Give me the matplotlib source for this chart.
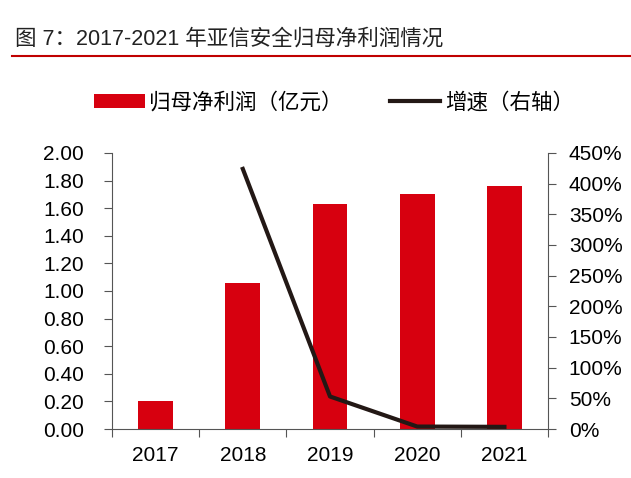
import numpy as np
import matplotlib.pyplot as plt
from matplotlib.ticker import FixedLocator, FuncFormatter

plt.rcParams['font.family'] = ['Liberation Sans', 'Noto Sans CJK SC', 'DejaVu Sans']

years = ['2017', '2018', '2019', '2020', '2021']
profit = [0.20, 1.06, 1.63, 1.70, 1.76]          # 归母净利润（亿元）
growth_years = ['2018', '2019', '2020', '2021']
growth = [4.24, 0.53, 0.04, 0.035]                # 增速（右轴）

bar_color = '#D7000F'
line_color = '#231815'

fig = plt.figure(figsize=(6.31, 4.78), dpi=100)
ax = fig.add_axes([0.1775, 0.1025, 0.691, 0.5775])

x = np.arange(len(years))
ax.bar(x, profit, width=0.4, color=bar_color, label='归母净利润（亿元）', zorder=2)
ax.set_xlim(-0.5, len(years) - 0.5)
ax.set_ylim(0, 2.0)
ax.set_yticks(np.arange(0, 2.01, 0.2))
ax.yaxis.set_major_formatter(FuncFormatter(lambda v, p: f'{v:.2f}'))

ax.set_xticks(np.arange(-0.5, len(years), 1.0))
ax.set_xticklabels([])
ax.xaxis.set_minor_locator(FixedLocator(x))
ax.set_xticks(x, minor=True)
ax.set_xticklabels(years, minor=True)
ax.tick_params(axis='x', which='minor', length=0, pad=12, labelsize=15)
ax.tick_params(axis='x', which='major', length=6, direction='out', color='#555555')
ax.tick_params(axis='y', length=6, direction='out', labelsize=15, pad=14, color='#555555')

for s in ['top', 'right']:
    ax.spines[s].set_visible(False)
for s in ['left', 'bottom']:
    ax.spines[s].set_color('#555555')

ax2 = ax.twinx()
gx = [years.index(y) for y in growth_years]
ax2.plot(gx, growth, color=line_color, lw=3, label='增速（右轴）', zorder=3)
ax2.set_ylim(0, 4.5)
ax2.set_yticks(np.arange(0, 4.51, 0.5))
ax2.yaxis.set_major_formatter(FuncFormatter(lambda v, p: f'{v*100:.0f}%'))
ax2.tick_params(axis='y', length=6, direction='out', labelsize=15, pad=9, color='#555555')
for s in ['top', 'left', 'bottom']:
    ax2.spines[s].set_visible(False)
ax2.spines['right'].set_color('#555555')

h1, l1 = ax.get_legend_handles_labels()
h2, l2 = ax2.get_legend_handles_labels()
fig.legend(h1 + h2, l1 + l2, loc='center', bbox_to_anchor=(0.529, 0.785), ncol=2,
           frameon=False, fontsize=15.5, handlelength=2.35, handleheight=0.6,
           columnspacing=2.2, handletextpad=0.2)

fig.text(0.024, 0.897, '图 7：2017-2021 年亚信安全归母净利润情况', fontsize=15.5,
         ha='left', va='bottom', color='#222222')
fig.add_artist(plt.Line2D([0.019, 1.0], [0.883, 0.883], color='#C00000', lw=1.5))

fig.savefig('out.png', dpi=100)
